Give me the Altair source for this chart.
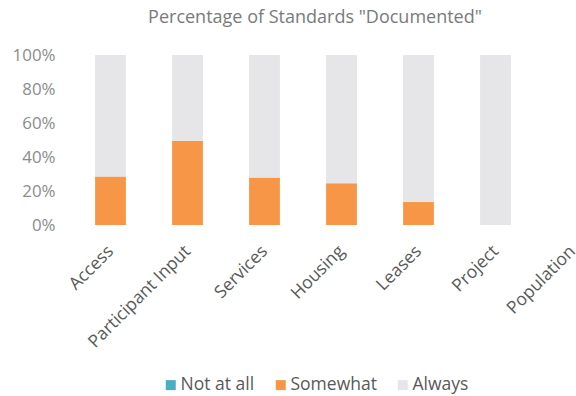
import altair as alt
import pandas as pd

categories = ["Access", "Participant Input", "Services", "Housing", "Leases", "Project", "Population"]
series = ["Not at all", "Somewhat", "Always"]
not_at_all = [0.0, 0.0, 0.0, 0.0, 0.0, 0.0, 0.0]
somewhat = [0.285, 0.495, 0.28, 0.245, 0.135, 0.0, 0.0]
always = [0.715, 0.505, 0.72, 0.755, 0.865, 1.0, 0.0]
colors = ["#4bacc6", "#f79646", "#e6e6e9"]
y_ticks = [0, 0.2, 0.4, 0.6, 0.8, 1.0]

rows = []
for i, c in enumerate(categories):
    for j, (s, vals) in enumerate(zip(series, [not_at_all, somewhat, always])):
        rows.append({"category": c, "series": s, "value": vals[i], "order": j})
df = pd.DataFrame(rows)

FONT = "Open Sans"

chart = alt.Chart(df).mark_bar().encode(
    x=alt.X(
        "category:N", sort=categories,
        scale=alt.Scale(range=[0, 539], paddingInner=0.6, paddingOuter=0.3),
        axis=alt.Axis(title=None, labelAngle=-45, labelAlign="right", labelBaseline="top",
                      domain=False, ticks=False, labelFontSize=17.5, labelColor="#595959",
                      labelPadding=17, labelOffset=-6, labelFont=FONT),
    ),
    y=alt.Y(
        "value:Q", stack="zero", scale=alt.Scale(domain=[0, 1]),
        axis=alt.Axis(title=None, values=y_ticks, format=".0%", grid=False, domain=False,
                      ticks=False, labelFontSize=16.9, labelColor="#8c8c8c", labelPadding=17,
                      labelFont=FONT),
    ),
    color=alt.Color(
        "series:N", sort=series,
        scale=alt.Scale(domain=series, range=colors),
        legend=alt.Legend(title=None, orient="none", legendX=90, legendY=321, direction="horizontal",
                          symbolType="square", symbolSize=100, symbolStrokeWidth=0,
                          labelFontSize=17.5, labelColor="#595959", labelFont=FONT,
                          columnPadding=17, labelOffset=1, padding=0),
    ),
    order=alt.Order("order:Q"),
).properties(
    width=504, height=170,
    title=alt.TitleParams("Percentage of Standards \"Documented\"", fontSize=18, font=FONT,
                          fontWeight="normal", color="#7a7a7a", dx=-9, offset=19),
    autosize=alt.AutoSizeParams(type="none"),
    padding={"left": 72, "top": 55, "right": 0, "bottom": 171},
).configure_view(stroke=None)

chart.save("out.html", embed_options={"renderer": "svg", "actions": False})
